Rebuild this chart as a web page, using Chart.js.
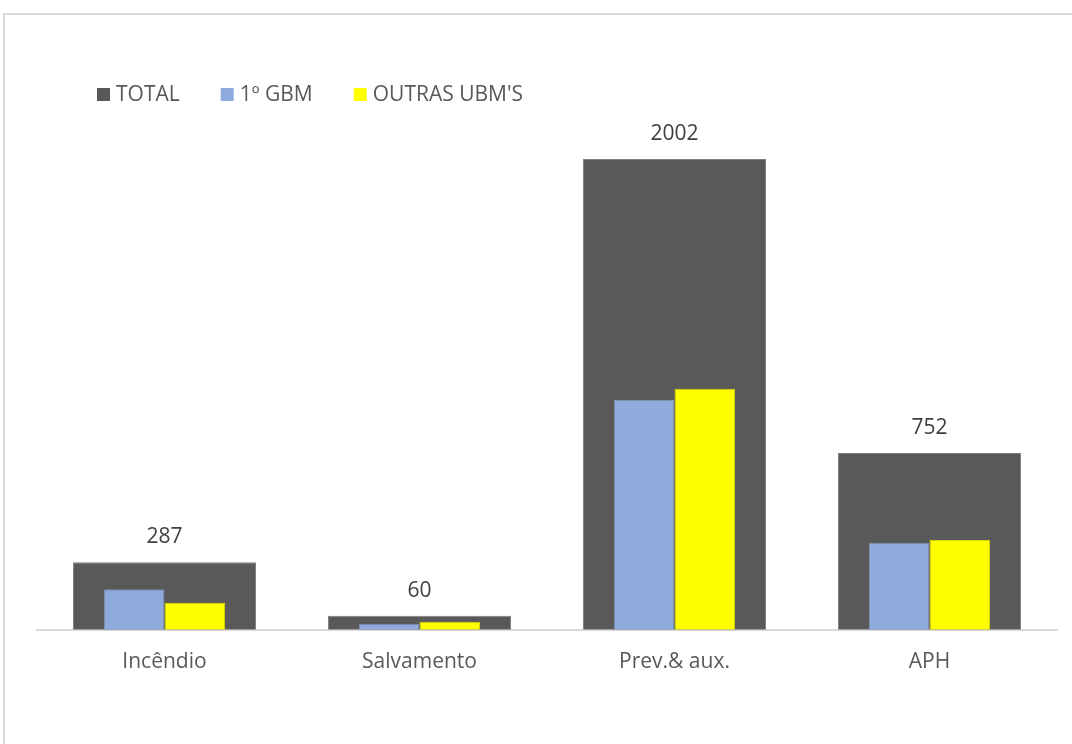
<!DOCTYPE html>
<html>
<head>
<meta charset="utf-8">
<script src="https://cdn.jsdelivr.net/npm/chart.js@4.4.0/dist/chart.umd.min.js"></script>
<style>
  html, body { margin: 0; padding: 0; background: #fff; overflow: hidden; }
  #wrap { position: relative; width: 1072px; height: 744px; }
  #frame { position: absolute; left: 3px; top: 13px; width: 1100px; height: 800px; border: 2px solid #d9d9d9; box-sizing: border-box; }
  #grafico { position: absolute; left: 0; top: 0; }
</style>
</head>
<body>
<div id="wrap">
  <div id="frame"></div>
  <canvas id="grafico" width="1072" height="744"></canvas>
</div>
<script>
const categorias = ["Incêndio", "Salvamento", "Prev.& aux.", "APH"];
const total = [287, 60, 2002, 752];
const gbm = [172, 26, 977, 370];
const outras = [115, 34, 1025, 382];

const FONTE = "'Open Sans', sans-serif";
const CINZA_TEXTO = "#595959";

// legenda desenhada à mão (posição igual ao original)
const legendaPlugin = {
  id: "legendaManual",
  afterDraw(chart) {
    const ctx = chart.ctx;
    ctx.save();
    ctx.font = "21px " + FONTE;
    ctx.textBaseline = "middle";
    let x = 97;
    const y = 95;
    chart.data.datasets.forEach(ds => {
      ctx.fillStyle = ds.backgroundColor;
      ctx.fillRect(x, y - 7, 13, 13);
      x += 19;
      ctx.fillStyle = CINZA_TEXTO;
      ctx.fillText(ds.label, x, y);
      x += ctx.measureText(ds.label).width + 41;
    });
    ctx.restore();
  }
};

// rótulos de valor só no TOTAL
const rotulosPlugin = {
  id: "rotulosTotal",
  afterDatasetsDraw(chart) {
    const ctx = chart.ctx;
    const meta = chart.getDatasetMeta(0);
    ctx.save();
    ctx.font = "21px " + FONTE;
    ctx.fillStyle = "#404040";
    ctx.textAlign = "center";
    ctx.textBaseline = "middle";
    meta.data.forEach((bar, i) => {
      ctx.fillText(total[i], bar.x, bar.y - 25);
    });
    ctx.restore();
  }
};

document.addEventListener("DOMContentLoaded", () => {
  const ctx = document.getElementById("grafico").getContext("2d");

  new Chart(ctx, {
    type: "bar",
    data: {
      labels: categorias,
      datasets: [
        {
          // barra larga de fundo, centrada na categoria
          label: "TOTAL",
          data: total,
          backgroundColor: "#595959",
          borderColor: "#7f7f7f",
          borderWidth: 1,
          grouped: false,
          categoryPercentage: 1,
          barPercentage: 0.718,
          order: 2
        },
        {
          label: "1º GBM",
          data: gbm,
          backgroundColor: "#8faadc",
          borderColor: "#7f8fae",
          borderWidth: 1,
          categoryPercentage: 0.475,
          barPercentage: 1,
          order: 1
        },
        {
          label: "OUTRAS UBM'S",
          data: outras,
          backgroundColor: "#ffff00",
          borderColor: "#d6d600",
          borderWidth: 1,
          categoryPercentage: 0.475,
          barPercentage: 1,
          order: 1
        }
      ]
    },
    options: {
      responsive: false,
      animation: false,
      devicePixelRatio: 1,
      layout: {
        padding: { top: 130, left: 37, right: 15, bottom: 49 }
      },
      plugins: {
        legend: { display: false },
        tooltip: { enabled: false }
      },
      scales: {
        x: {
          grid: { display: false, drawTicks: false },
          border: { display: true, color: "#d9d9d9", width: 2 },
          ticks: {
            color: CINZA_TEXTO,
            font: { family: FONTE, size: 21 },
            padding: 20
          }
        },
        y: {
          display: false,
          min: 0,
          max: 2125
        }
      }
    },
    plugins: [legendaPlugin, rotulosPlugin]
  });
});
</script>
</body>
</html>
